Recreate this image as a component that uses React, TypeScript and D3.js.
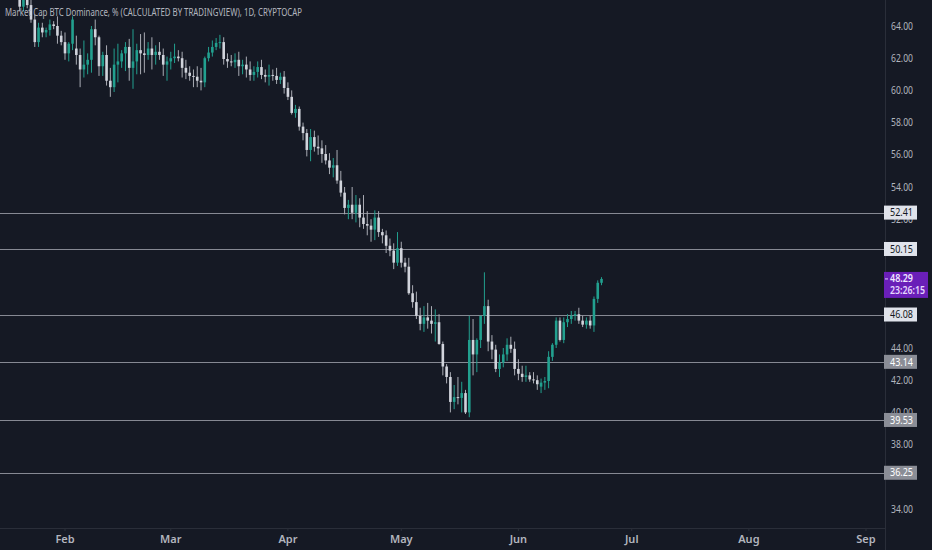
import * as d3 from "d3";
import { useEffect, useRef } from "react";

// daily candles, starting 2021-01-15
const startDate = new Date(Date.UTC(2021, 0, 15));

const opens = [
  66.8, 66.5, 66.2, 66.6, 66.1, 65.9, 65.2, 65.7, 65.3, 64.4,
  63.0, 63.9, 63.6, 63.75, 64.1, 64.0, 63.4, 63.0, 62.3, 62.9,
  62.6, 62.2, 61.3, 61.6, 61.9, 63.8, 63.3, 61.5, 62.2, 60.6,
  60.2, 61.6, 61.8, 62.3, 62.7, 61.4, 61.8, 62.5, 62.3, 62.2,
  62.6, 62.2, 62.4, 62.2, 61.6, 61.8, 62.0, 62.1, 62.0, 61.4,
  61.1, 60.9, 60.85, 60.6, 60.5, 62.0, 62.35, 62.7, 62.95, 63.0,
  61.95, 61.8, 61.75, 61.9, 61.5, 61.6, 61.3, 60.96, 61.15, 61.45,
  60.96, 60.85, 60.96, 60.9, 60.65, 60.85, 60.15, 59.6, 58.6, 58.85,
  57.75, 57.35, 56.3, 57.1, 56.5, 56.4, 56.05, 55.65, 55.2, 55.35,
  54.4, 53.65, 52.7, 52.9, 52.4, 52.9, 52.1, 51.7, 51.6, 51.35,
  52.1, 51.2, 51.0, 50.35, 50.05, 49.3, 50.2, 49.3, 49.05, 47.4,
  46.85, 46.0, 45.5, 45.9, 45.7, 45.5, 45.6, 44.25, 42.85, 42.2,
  40.65, 40.95, 40.9, 41.2, 40.0, 44.5, 43.6, 44.5, 46.0, 46.6,
  44.4, 43.9, 42.7, 43.1, 43.6, 44.2, 43.95, 42.7, 42.4, 42.2,
  42.3, 42.05, 42.0, 41.6, 41.85, 41.95, 43.45, 44.2, 45.7, 44.5,
  45.6, 45.8, 46.0, 46.1, 45.7, 45.45, 45.7, 45.4, 47.05, 48.05,
];
const highs = [
  67.3, 67.0, 66.9, 66.9, 66.5, 66.2, 66.0, 66.1, 65.7, 64.7,
  64.2, 64.2, 63.9, 64.4, 64.3, 64.6, 63.7, 63.6, 63.0, 64.6,
  63.4, 62.6, 63.1, 62.3, 64.0, 64.4, 63.4, 62.4, 62.8, 61.4,
  62.6, 62.9, 62.5, 63.0, 63.2, 63.8, 62.9, 63.5, 63.6, 63.0,
  63.3, 62.8, 63.0, 62.6, 62.1, 62.4, 62.9, 62.5, 62.4, 61.9,
  61.5, 61.3, 61.5, 61.4, 62.1, 62.7, 63.1, 63.25, 63.45, 63.3,
  62.3, 62.2, 62.3, 62.4, 61.9, 62.1, 61.8, 61.5, 61.8, 61.9,
  61.3, 61.6, 61.3, 61.4, 61.1, 61.2, 60.5, 60.0, 59.1, 59.0,
  58.0, 57.6, 57.6, 57.5, 57.2, 56.9, 56.6, 56.1, 55.8, 56.3,
  55.0, 54.0, 53.2, 54.0, 53.5, 53.3, 53.5, 52.5, 52.0, 52.55,
  52.5, 51.4, 51.3, 50.8, 50.5, 51.2, 50.6, 49.6, 49.6, 47.9,
  47.5, 46.5, 46.6, 46.8, 46.6, 46.4, 46.1, 44.4, 43.0, 42.5,
  41.7, 42.2, 41.9, 41.4, 46.0, 45.8, 44.6, 46.0, 48.7, 47.0,
  44.8, 44.2, 43.6, 44.0, 44.6, 44.7, 44.4, 43.3, 42.9, 42.9,
  42.5, 42.5, 42.3, 42.1, 42.2, 43.8, 44.3, 45.9, 45.9, 45.9,
  46.1, 46.3, 46.3, 46.5, 46.0, 45.9, 46.0, 47.2, 48.2, 48.4,
];
const lows = [
  66.2, 65.9, 65.8, 65.9, 65.7, 64.9, 64.9, 65.1, 64.2, 62.7,
  62.7, 63.3, 63.3, 63.4, 63.8, 62.9, 62.8, 61.9, 61.8, 62.5,
  61.6, 60.2, 60.8, 61.0, 61.1, 62.8, 60.9, 60.9, 60.3, 59.6,
  59.9, 60.5, 61.4, 61.2, 60.6, 60.1, 61.0, 61.0, 61.1, 61.9,
  61.3, 61.6, 61.9, 60.9, 60.6, 61.3, 61.7, 61.8, 60.8, 60.7,
  60.6, 60.2, 60.2, 60.0, 60.2, 61.8, 62.1, 62.5, 62.6, 61.6,
  61.4, 61.5, 61.4, 60.9, 61.0, 60.8, 60.6, 60.6, 60.8, 60.7,
  60.5, 60.3, 60.6, 60.4, 60.4, 59.8, 59.4, 58.5, 58.3, 57.5,
  56.9, 55.9, 55.6, 56.2, 56.0, 55.5, 55.4, 54.8, 54.6, 54.2,
  53.4, 52.3, 52.0, 52.0, 51.8, 51.5, 51.4, 51.0, 50.6, 50.7,
  50.9, 50.5, 49.9, 49.7, 48.9, 49.1, 49.0, 48.7, 47.3, 46.5,
  45.8, 45.1, 45.0, 45.2, 44.9, 44.4, 44.2, 42.3, 41.8, 40.0,
  40.2, 40.5, 40.0, 39.9, 39.7, 42.3, 42.5, 44.0, 45.5, 43.8,
  43.3, 42.5, 42.2, 42.8, 43.2, 43.7, 42.3, 42.0, 41.9, 41.9,
  41.9, 41.8, 41.4, 41.2, 41.4, 41.5, 43.2, 44.0, 44.4, 44.3,
  45.3, 45.5, 45.7, 45.5, 45.3, 45.2, 45.2, 45.0, 46.8, 47.9,
];
const closes = [
  66.5, 66.2, 66.6, 66.1, 65.9, 65.2, 65.7, 65.3, 64.4, 63.0,
  63.9, 63.6, 63.75, 64.1, 64.0, 63.4, 63.0, 62.3, 62.9, 64.4,
  62.2, 61.3, 61.6, 61.9, 63.8, 63.3, 61.5, 62.2, 60.6, 60.2,
  61.6, 61.8, 62.3, 62.7, 61.4, 61.8, 62.5, 62.3, 62.2, 62.6,
  62.2, 62.4, 62.2, 61.6, 61.8, 62.0, 62.1, 62.0, 61.4, 61.1,
  60.9, 60.85, 60.6, 60.5, 62.0, 62.35, 62.7, 62.95, 63.0, 61.95,
  61.8, 61.75, 61.9, 61.5, 61.6, 61.3, 60.96, 61.15, 61.45, 60.96,
  60.85, 60.96, 60.9, 60.65, 60.85, 60.15, 59.6, 58.6, 58.85, 57.75,
  57.35, 56.3, 57.1, 56.5, 56.4, 56.05, 55.65, 55.2, 55.35, 54.4,
  53.65, 52.7, 52.9, 52.4, 52.9, 52.1, 51.7, 51.6, 51.35, 52.1,
  51.2, 51.0, 50.35, 50.05, 49.3, 50.2, 49.3, 49.05, 47.4, 46.85,
  46.0, 45.5, 45.9, 45.7, 45.5, 45.6, 44.25, 42.85, 42.2, 40.65,
  40.95, 40.9, 41.2, 40.0, 44.5, 43.6, 44.5, 46.0, 46.6, 44.4,
  43.9, 42.7, 43.1, 43.6, 44.2, 43.95, 42.7, 42.4, 42.2, 42.3,
  42.05, 42.0, 41.75, 41.85, 41.95, 43.45, 44.2, 45.7, 44.5, 45.6,
  45.8, 46.0, 46.1, 45.7, 45.45, 45.7, 45.4, 47.05, 48.05, 48.29,
];

const levels = [52.41, 50.15, 46.08, 43.14, 39.53, 36.25];
const brightLevels = [52.41, 50.15, 46.08];
const yTicks = [34, 36, 38, 40, 42, 44, 46, 48, 50, 52, 54, 56, 58, 60, 62, 64];
const monthTicks = ["2021-02-01", "2021-03-01", "2021-04-01", "2021-05-01", "2021-06-01", "2021-07-01", "2021-08-01", "2021-09-01"];
const lastPrice = 48.29;
const countdown = "23:26:15";
const title = "Market Cap BTC Dominance, % (CALCULATED BY TRADINGVIEW), 1D, CRYPTOCAP";

const WIDTH = 932;
const HEIGHT = 550;
const UP = "#22a08f";
const DOWN = "#d1d4dc";
const FONT = "'Noto Sans', 'Liberation Sans', sans-serif";

const App = () => {
  const svgRef = useRef<SVGSVGElement | null>(null);

  useEffect(() => {
    document.body.style.margin = "0";
    const plotRight = 885;
    const plotBottom = 528;

    const x = d3
      .scaleUtc()
      .domain([new Date("2021-02-01"), new Date("2021-09-01")])
      .range([65, 866]);
    const y = d3.scaleLinear().domain([34, 64]).range([509, 26]);

    const data = opens.map((o, i) => ({
      date: d3.utcDay.offset(startDate, i),
      o,
      h: highs[i],
      l: lows[i],
      c: closes[i],
    }));

    const svg = d3.select(svgRef.current);
    svg.selectAll("*").remove();

    svg.append("rect").attr("width", WIDTH).attr("height", HEIGHT).attr("fill", "#151924");

    svg
      .append("clipPath")
      .attr("id", "plot-clip")
      .append("rect")
      .attr("width", plotRight)
      .attr("height", plotBottom);

    const plot = svg.append("g").attr("clip-path", "url(#plot-clip)");

    // horizontal levels
    plot
      .selectAll("line.level")
      .data(levels)
      .join("line")
      .attr("class", "level")
      .attr("x1", 0)
      .attr("x2", plotRight)
      .attr("y1", (d) => Math.round(y(d)) + 0.5)
      .attr("y2", (d) => Math.round(y(d)) + 0.5)
      .attr("stroke", "#868993")
      .attr("stroke-width", 1);

    const bodyW = 2.6;
    const candles = plot.selectAll("g.candle").data(data).join("g").attr("class", "candle");
    candles
      .append("line")
      .attr("x1", (d) => x(d.date))
      .attr("x2", (d) => x(d.date))
      .attr("y1", (d) => y(d.h))
      .attr("y2", (d) => y(d.l))
      .attr("stroke", (d) => (d.c >= d.o ? UP : "#a9acb4"))
      .attr("stroke-width", 1);
    candles
      .append("rect")
      .attr("x", (d) => x(d.date) - bodyW / 2)
      .attr("width", bodyW)
      .attr("y", (d) => y(Math.max(d.o, d.c)))
      .attr("height", (d) => Math.max(1, Math.abs(y(d.o) - y(d.c))))
      .attr("fill", (d) => (d.c >= d.o ? UP : DOWN));

    // title
    svg
      .append("text")
      .attr("x", 5)
      .attr("y", 16)
      .attr("font-family", FONT)
      .attr("font-size", 11)
      .attr("fill", "#b2b5be")
      .attr("textLength", 297)
      .attr("lengthAdjust", "spacingAndGlyphs")
      .text(title);

    // axes frame
    svg
      .append("line")
      .attr("x1", plotRight + 0.5)
      .attr("x2", plotRight + 0.5)
      .attr("y1", 0)
      .attr("y2", HEIGHT)
      .attr("stroke", "#2a2e39");
    svg
      .append("line")
      .attr("x1", 0)
      .attr("x2", plotRight)
      .attr("y1", plotBottom + 0.5)
      .attr("y2", plotBottom + 0.5)
      .attr("stroke", "#2a2e39");
    svg
      .selectAll("line.xtickmark")
      .data(monthTicks)
      .join("line")
      .attr("class", "xtickmark")
      .attr("x1", (d) => x(new Date(d)))
      .attr("x2", (d) => x(new Date(d)))
      .attr("y1", plotBottom)
      .attr("y2", plotBottom + 3)
      .attr("stroke", "#2a2e39");

    // y ticks (those fully hidden behind a label box are skipped)
    const badges = [...levels, lastPrice];
    svg
      .selectAll("text.ytick")
      .data(yTicks.filter((t) => !badges.some((b) => Math.abs(y(b) - y(t)) < 5)))
      .join("text")
      .attr("class", "ytick")
      .attr("x", 891)
      .attr("y", (d) => y(d))
      .attr("dy", "0.35em")
      .attr("font-family", FONT)
      .attr("font-size", 10.5)
      .attr("fill", "#b2b5be")
      .attr("textLength", 22)
      .attr("lengthAdjust", "spacingAndGlyphs")
      .text((d) => d.toFixed(2));

    // x ticks
    svg
      .selectAll("text.xtick")
      .data(monthTicks)
      .join("text")
      .attr("class", "xtick")
      .attr("x", (d) => x(new Date(d)))
      .attr("y", 543)
      .attr("text-anchor", "middle")
      .attr("font-family", FONT)
      .attr("font-size", 11)
      .attr("font-weight", 600)
      .attr("fill", "#b2b5be")
      .text((d) => d3.utcFormat("%b")(new Date(d)));

    // level labels
    const labels = svg.selectAll("g.lvl").data(levels).join("g").attr("class", "lvl");
    labels
      .append("line")
      .attr("x1", 885)
      .attr("x2", 889)
      .attr("y1", (d) => Math.round(y(d)) + 0.5)
      .attr("y2", (d) => Math.round(y(d)) + 0.5)
      .attr("stroke", "#868993");
    labels
      .append("rect")
      .attr("x", 884)
      .attr("y", (d) => y(d) - 7)
      .attr("width", 33)
      .attr("height", 14)
      .attr("fill", (d) => (brightLevels.includes(d) ? "#e0e3eb" : "#8a8d96"));
    labels
      .append("text")
      .attr("x", 890)
      .attr("y", (d) => y(d))
      .attr("dy", "0.35em")
      .attr("font-family", FONT)
      .attr("font-size", 10.5)
      .attr("fill", (d) => (brightLevels.includes(d) ? "#131722" : "#ffffff"))
      .attr("textLength", 23)
      .attr("lengthAdjust", "spacingAndGlyphs")
      .text((d) => d.toFixed(2));

    // last price badge
    const yl = y(lastPrice);
    svg
      .append("rect")
      .attr("x", 884)
      .attr("y", yl - 7)
      .attr("width", 44)
      .attr("height", 26)
      .attr("fill", "#6a1fb8");
    svg
      .append("line")
      .attr("x1", 885)
      .attr("x2", 888)
      .attr("y1", yl)
      .attr("y2", yl)
      .attr("stroke", "#e0d0ff");
    svg
      .append("text")
      .attr("x", 890)
      .attr("y", yl - 0.5)
      .attr("dy", "0.35em")
      .attr("font-family", FONT)
      .attr("font-size", 10)
      .attr("font-weight", 600)
      .attr("fill", "#f0e8ff")
      .attr("textLength", 23)
      .attr("lengthAdjust", "spacingAndGlyphs")
      .text(lastPrice.toFixed(2));
    svg
      .append("text")
      .attr("x", 890)
      .attr("y", yl + 12)
      .attr("dy", "0.35em")
      .attr("font-family", FONT)
      .attr("font-size", 10)
      .attr("font-weight", 600)
      .attr("fill", "#e6d8ff")
      .attr("textLength", 35)
      .attr("lengthAdjust", "spacingAndGlyphs")
      .text(countdown);
  }, []);

  return (
    <div style={{ position: "absolute", left: 0, top: 0 }}>
      <svg ref={svgRef} width={WIDTH} height={HEIGHT} style={{ display: "block" }}></svg>
    </div>
  );
};

export default App;
